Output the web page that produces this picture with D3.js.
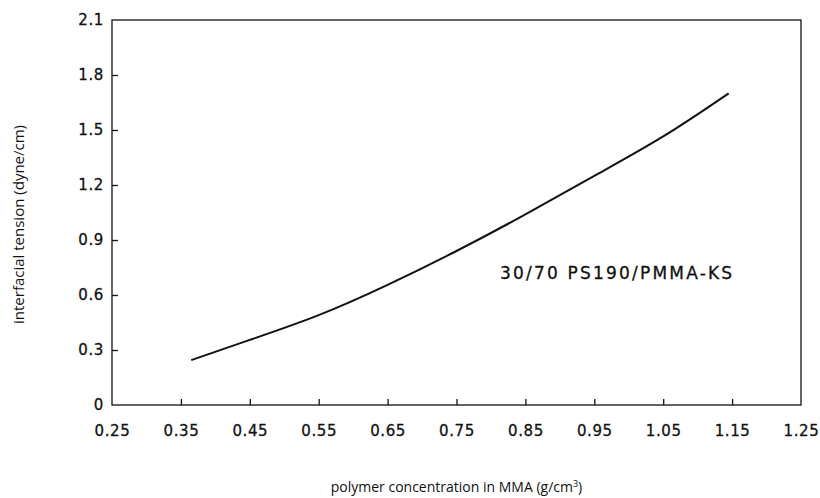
<!DOCTYPE html>
<html>
<head>
<meta charset="utf-8">
<script src="https://cdn.jsdelivr.net/npm/d3@7"></script>
<style>
  body { margin: 0; background: #fff; }
  svg text { fill: #111; }
</style>
</head>
<body>
<svg id="chart" width="820" height="498"></svg>
<script>
// values
const concentration = [0.365, 0.45, 0.55, 0.65, 0.75, 0.85, 0.95, 1.05, 1.145];
const tension = [0.245, 0.355, 0.49, 0.655, 0.84, 1.04, 1.25, 1.465, 1.70];
const xTicks = [0.25, 0.35, 0.45, 0.55, 0.65, 0.75, 0.85, 0.95, 1.05, 1.15, 1.25];
const yTicks = [0, 0.3, 0.6, 0.9, 1.2, 1.5, 1.8, 2.1];
const seriesLabel = '30/70 PS190/PMMA-KS';

const svg = d3.select('#chart');

// plot box
const plotLeft = 112, plotRight = 801, plotTop = 20, plotBottom = 405;

const x = d3.scaleLinear().domain([0.25, 1.25]).range([plotLeft, plotRight]);
const y = d3.scaleLinear().domain([0, 2.1]).range([plotBottom, plotTop]);

const tickFont = '"DejaVu Sans", sans-serif';

// frame
svg.append('rect')
    .attr('x', plotLeft).attr('y', plotTop)
    .attr('width', plotRight - plotLeft).attr('height', plotBottom - plotTop)
    .attr('fill', 'none')
    .attr('stroke', '#111')
    .attr('stroke-width', 1.3);

// x axis: inward ticks, labels below
const xAxis = d3.axisBottom(x)
    .tickValues(xTicks)
    .tickSize(-6)
    .tickPadding(20)
    .tickFormat(d => d3.format('.2f')(d));

const gx = svg.append('g')
    .attr('transform', `translate(0,${plotBottom})`)
    .call(xAxis);
gx.select('.domain').remove();
gx.selectAll('.tick line')
    .attr('stroke', '#111')
    .attr('stroke-width', 1.3)
    .attr('display', d => (d === 0.25 || d === 1.25) ? 'none' : null);
gx.selectAll('.tick text')
    .attr('font-family', tickFont)
    .attr('font-size', 15)
    .attr('letter-spacing', 0.6)
    .attr('stroke', '#111')
    .attr('stroke-width', 0.3)
    .attr('fill', '#111');

// y axis: inward ticks, labels left
const yAxis = d3.axisLeft(y)
    .tickValues(yTicks)
    .tickSize(-6)
    .tickPadding(8)
    .tickFormat(d => d === 0 ? '0' : d3.format('.1f')(d));

const gy = svg.append('g')
    .attr('transform', `translate(${plotLeft},0)`)
    .call(yAxis);
gy.select('.domain').remove();
gy.selectAll('.tick line')
    .attr('stroke', '#111')
    .attr('stroke-width', 1.3)
    .attr('display', d => (d === 0 || d === 2.1) ? 'none' : null);
gy.selectAll('.tick text')
    .attr('font-family', tickFont)
    .attr('font-size', 15)
    .attr('letter-spacing', 0.6)
    .attr('stroke', '#111')
    .attr('stroke-width', 0.3)
    .attr('fill', '#111');

// the curve
const line = d3.line()
    .x(d => x(d[0]))
    .y(d => y(d[1]))
    .curve(d3.curveNatural);

svg.append('path')
    .datum(d3.zip(concentration, tension))
    .attr('d', line)
    .attr('fill', 'none')
    .attr('stroke', '#111')
    .attr('stroke-width', 2);

// series label inside plot
svg.append('text')
    .attr('x', 500).attr('y', 279)
    .attr('font-family', tickFont)
    .attr('font-size', 17)
    .attr('letter-spacing', 2.2)
    .attr('stroke', '#111')
    .attr('stroke-width', 0.3)
    .text(seriesLabel);

// axis titles
const titleFont = '"Open Sans", "Noto Sans", sans-serif';

const xTitle = svg.append('text')
    .attr('x', (plotLeft + plotRight) / 2)
    .attr('y', 492)
    .attr('text-anchor', 'middle')
    .attr('font-family', titleFont)
    .attr('font-size', 14)
    .text('polymer concentration in MMA (g/cm');
xTitle.append('tspan')
    .attr('font-size', 9)
    .attr('dy', -5)
    .text('3');
xTitle.append('tspan')
    .attr('dy', 5)
    .text(')');

svg.append('text')
    .attr('transform', `translate(24,${(plotTop + plotBottom) / 2 + 12}) rotate(-90)`)
    .attr('text-anchor', 'middle')
    .attr('font-family', titleFont)
    .attr('font-size', 15)
    .text('interfacial tension (dyne/cm)');
</script>
</body>
</html>
